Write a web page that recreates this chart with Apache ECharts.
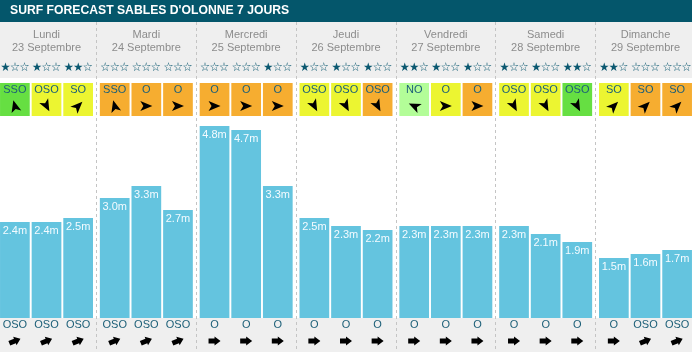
<!DOCTYPE html>
<html><head><meta charset="utf-8">
<script src="https://cdn.jsdelivr.net/npm/echarts@6/dist/echarts.min.js"></script>
<style>html,body{margin:0;padding:0;background:#fff}#c{width:692px;height:352px}</style>
</head><body><div id="c"></div>
<script>
const chartTitle = "SURF FORECAST SABLES D'OLONNE 7 JOURS";
const days = ['Lundi','Mardi','Mercredi','Jeudi','Vendredi','Samedi','Dimanche'];
const dates = ['23 Septembre','24 Septembre','25 Septembre','26 Septembre','27 Septembre','28 Septembre','29 Septembre'];
const waveHeights = [[2.4,2.4,2.5],[3.0,3.3,2.7],[4.8,4.7,3.3],[2.5,2.3,2.2],[2.3,2.3,2.3],[2.3,2.1,1.9],[1.5,1.6,1.7]];
const starRatings = [[1,1,2],[0,0,0],[0,0,1],[1,1,1],[2,1,1],[1,1,2],[2,0,0]];
const windDirections = [['SSO','OSO','SO'],['SSO','O','O'],['O','O','O'],['OSO','OSO','OSO'],['NO','O','O'],['OSO','OSO','OSO'],['SO','SO','SO']];
const windLevels = [[1,3,3],[4,4,4],[4,4,4],[3,3,4],[2,3,4],[3,3,1],[3,4,4]];
const swellDirections = [['OSO','OSO','OSO'],['OSO','OSO','OSO'],['O','O','O'],['O','O','O'],['O','O','O'],['O','O','O'],['O','OSO','OSO']];

const windColors = {1:'#66df42', 2:'#b3fd98', 3:'#ecf531', 4:'#f6ad30'};
const windRotation = {O:0, SO:45, OSO:-62, SSO:105, NO:155};
const swellRotation = {O:0, OSO:22};
const TEAL = '#1c5f78';
const FONT = 'Liberation Sans';
const windArrow = 'path://M0,0 L20,8 L0,16 L5,8 Z';
const swellArrow = 'path://M0,2 L6,2 L6,0 L12,4.5 L6,9 L6,7 L0,7 Z';

const L = -3.4, W = 698.8, BW = 29.7, BG = '6.5%';
const grids = [
  {top:22, bottom:0},              // 0 separators
  {top:22, height:56, show:true, backgroundColor:'#efefef', borderWidth:0}, // 1 header
  {top:58, height:16},             // 2 stars
  {top:83, height:33},             // 3 wind boxes
  {top:99, height:14},             // 4 wind arrows
  {top:118, height:200},           // 5 wave bars
  {top:318, height:34, show:true, backgroundColor:'#efefef', borderWidth:0}, // 6 swell text
  {top:334, height:14}             // 7 swell arrows
].map(g => Object.assign({left:L, width:W, containLabel:false, outerBoundsMode:'none'}, g));

const xAxes = grids.map((g,i) => ({
  type:'category', gridIndex:i, data:days, show: i<=1,
  axisLine:{show:false}, axisTick:{show:false},
  axisLabel:{show:false}, splitLine:{show:false}
}));
xAxes[0].splitLine = {show:true, interval:0, lineStyle:{color:'#c4c4c4', type:[3,3], width:1}};
xAxes[1].position = 'top';
xAxes[1].axisLabel = {show:true, inside:true, interval:0, margin:6, color:'#8c8c8c', fontSize:11, lineHeight:13, fontFamily:FONT,
  formatter:(v,i)=> v + '\n' + dates[i]};
const yAxes = grids.map((g,i) => ({type:'value', gridIndex:i, min:0, max: i===5 ? 5 : 1, show:false}));

const series = [];
[0,1,2].forEach(s => {
  const common = {barWidth:BW, barGap:BG};
  series.push(Object.assign({type:'bar', name:'stars'+s, xAxisIndex:2, yAxisIndex:2,
    data: starRatings.map(()=>1), itemStyle:{color:'rgba(0,0,0,0)'},
    label:{show:true, position:'inside', color:'#0b5870', fontSize:9.5, fontFamily:'Noto Sans CJK SC',
      formatter:p=>'★'.repeat(starRatings[p.dataIndex][s]) + '☆'.repeat(3-starRatings[p.dataIndex][s])}}, common));
  series.push(Object.assign({type:'bar', name:'wind'+s, xAxisIndex:3, yAxisIndex:3,
    data: windLevels.map(d=>({value:1, itemStyle:{color:windColors[d[s]]}})),
    label:{show:true, position:'insideTop', distance:1, color:TEAL, fontSize:11, fontFamily:FONT,
      formatter:p=>windDirections[p.dataIndex][s]}}, common));
  series.push(Object.assign({type:'pictorialBar', name:'windArrow'+s, xAxisIndex:4, yAxisIndex:4, z:5,
    symbol:windArrow, symbolSize:[12,10], symbolPosition:'center',
    data: windDirections.map(d=>({value:1, symbolRotate:windRotation[d[s]]})),
    itemStyle:{color:'#000'}}, common));
  series.push(Object.assign({type:'bar', name:'wave'+s, xAxisIndex:5, yAxisIndex:5,
    data: waveHeights.map(d=>d[s]), itemStyle:{color:'#64c4df'},
    label:{show:true, position:'insideTop', distance:3, color:'#f4fbff', fontSize:11, fontFamily:FONT,
      formatter:p=>p.value.toFixed(1)+'m'}}, common));
  series.push(Object.assign({type:'bar', name:'swell'+s, xAxisIndex:6, yAxisIndex:6,
    data: swellDirections.map(()=>1), itemStyle:{color:'rgba(0,0,0,0)'},
    label:{show:true, position:'insideTop', distance:1, color:TEAL, fontSize:11, fontFamily:FONT,
      formatter:p=>swellDirections[p.dataIndex][s]}}, common));
  series.push(Object.assign({type:'pictorialBar', name:'swellArrow'+s, xAxisIndex:7, yAxisIndex:7, z:5,
    symbol:swellArrow, symbolSize:[12,9], symbolPosition:'center',
    data: swellDirections.map(d=>({value:1, symbolRotate:swellRotation[d[s]]})),
    itemStyle:{color:'#000'}}, common));
});

const chart = echarts.init(document.getElementById('c'), null, {renderer:'canvas'});
chart.setOption({
  animation:false,
  backgroundColor:'#fff',
  title:{text:chartTitle, left:10, top:5, padding:0,
    textStyle:{color:'#fff', fontSize:12.2, fontWeight:'bold', fontFamily:FONT}},
  graphic:[{type:'rect', shape:{x:0,y:0,width:692,height:22}, style:{fill:'#04566b'}, z:-1}],
  grid:grids, xAxis:xAxes, yAxis:yAxes, series:series
});
</script></body></html>
